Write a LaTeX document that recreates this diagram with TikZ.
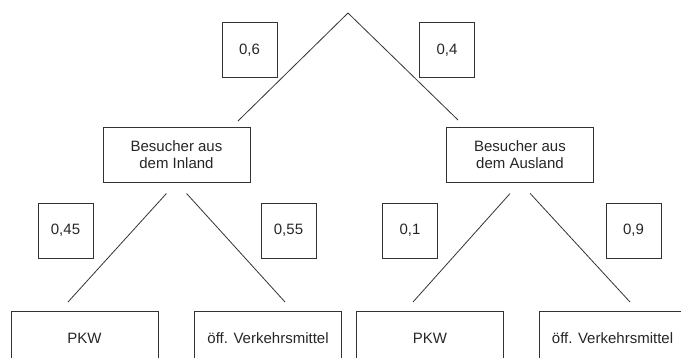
\documentclass[tikz,border=0pt]{standalone}
\usepackage{fontspec}
\setmainfont{Liberation Sans}
\usetikzlibrary{positioning}

\begin{document}
\begin{tikzpicture}[x=1pt,y=-1pt,
    every node/.style={font=\fontsize{15}{17}\selectfont,text=black!85}]
  \tikzstyle{nodeP}=[rectangle,draw=black!80,line width=0.8pt,minimum width=55pt,minimum height=55pt,inner sep=0pt]
  \tikzstyle{nodeC}=[rectangle,draw=black!80,line width=0.8pt,minimum width=147pt,minimum height=55pt,inner sep=0pt,align=center]
  \tikzstyle{branch}=[draw=black!80,line width=0.8pt]

  \useasboundingbox (0,0) rectangle (681,358);
  \clip (0,0) rectangle (681,358);

  % Wahrscheinlichkeiten
  \node[nodeP] (p_06)  at (249.5,50)  {0,6};
  \node[nodeP] (p_04)  at (447,50)    {0,4};
  \node[nodeP] (p_045) at (65.5,230.5)  {0,45};
  \node[nodeP] (p_055) at (288.5,230.5) {0,55};
  \node[nodeP] (p_01)  at (410,230.5)   {0,1};
  \node[nodeP] (p_09)  at (633.5,230.5) {0,9};

  % Besuchergruppen
  \node[nodeC] (inland)  at (176.5,154.5) {Besucher aus\\dem Inland};
  \node[nodeC] (ausland) at (520,154.5)   {Besucher aus\\dem Ausland};

  % Verkehrsmittel
  \node[nodeC] (pkw_in)   at (84.5,338.5)  {PKW};
  \node[nodeC] (oeff_in)  at (268,338.5)   {öff. Verkehrsmittel};
  \node[nodeC] (pkw_aus)  at (430,338.5)   {PKW};
  \node[nodeC] (oeff_aus) at (612.5,338.5) {öff. Verkehrsmittel};

  % Enden der Aeste
  \coordinate (top)    at (348,13);
  \coordinate (e_in)   at (238,121);
  \coordinate (e_aus)  at (458,120);
  \coordinate (e_in1)  at (68,302);
  \coordinate (e_in2)  at (285,302);
  \coordinate (e_aus1) at (413,302);
  \coordinate (e_aus2) at (630,302);

  \path[branch] (top) edge (e_in) edge (e_aus);
  \path[branch, shorten <=15pt] (inland.south) edge (e_in1) edge (e_in2);
  \path[branch, shorten <=15pt] (ausland.south) edge (e_aus1) edge (e_aus2);
\end{tikzpicture}
\end{document}
